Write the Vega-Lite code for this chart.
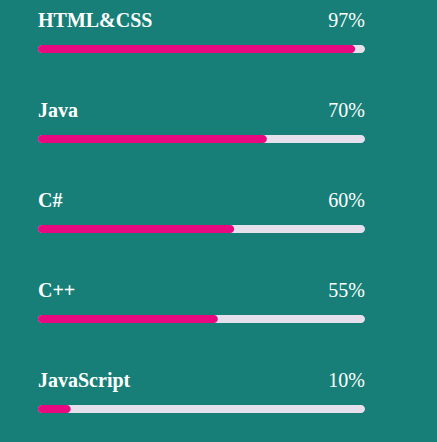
{
  "$schema": "https://vega.github.io/schema/vega-lite/v6.json",
  "width": 437,
  "height": 442,
  "padding": 0,
  "autosize": "none",
  "background": "#177f77",
  "config": {"view": {"stroke": null}},
  "data": {
    "values": [
      {"skill": "HTML&CSS", "pct": 97, "label": "97%"},
      {"skill": "Java", "pct": 70, "label": "70%"},
      {"skill": "C#", "pct": 60, "label": "60%"},
      {"skill": "C++", "pct": 55, "label": "55%"},
      {"skill": "JavaScript", "pct": 10, "label": "10%"}
    ]
  },
  "encoding": {
    "y": {"field": "skill", "type": "nominal", "sort": null, "scale": {"range": [4, 454], "padding": 0}, "axis": null}
  },
  "layer": [
    {
      "mark": {"type": "bar", "height": 8, "cornerRadius": 4, "color": "#e6e0ec"},
      "encoding": {
        "x": {"datum": 0, "type": "quantitative", "scale": {"domain": [0, 100], "range": [38, 365]}, "axis": null},
        "x2": {"datum": 100}
      }
    },
    {
      "mark": {"type": "bar", "height": 8, "cornerRadius": 4, "color": "#e8087f"},
      "encoding": {
        "x": {"field": "pct", "type": "quantitative"},
        "x2": {"datum": 0}
      }
    },
    {
      "mark": {"type": "text", "align": "left", "baseline": "alphabetic", "yOffset": -22, "font": "Liberation Serif", "fontWeight": "bold", "fontSize": 20, "color": "#ffffff"},
      "encoding": {
        "x": {"datum": 0, "type": "quantitative"},
        "text": {"field": "skill"}
      }
    },
    {
      "mark": {"type": "text", "align": "right", "baseline": "alphabetic", "yOffset": -22, "font": "Liberation Serif", "fontSize": 20, "color": "#ffffff"},
      "encoding": {
        "x": {"datum": 100, "type": "quantitative"},
        "text": {"field": "label"}
      }
    }
  ]
}
